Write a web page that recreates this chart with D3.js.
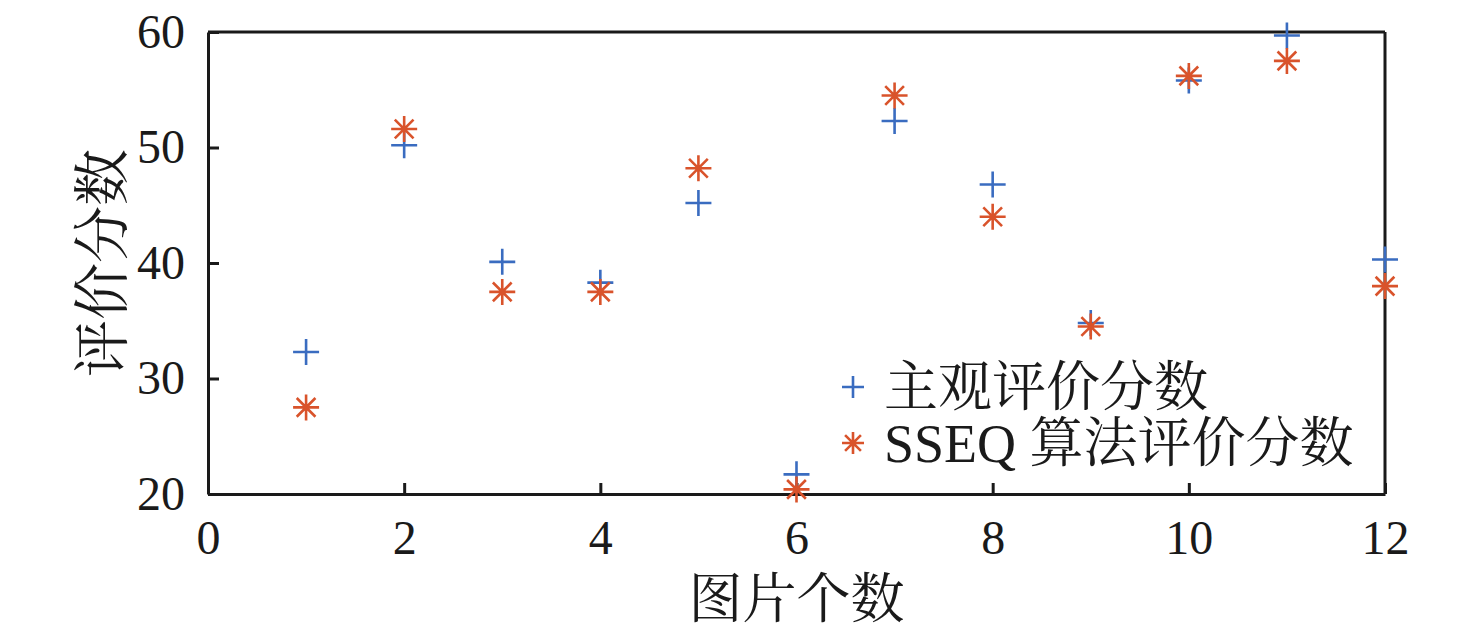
<!DOCTYPE html>
<html>
<head>
<meta charset="utf-8">
<script src="https://cdn.jsdelivr.net/npm/d3@7"></script>
<style>
  body { margin: 0; background: #fff; }
  text { font-family: "Liberation Serif", "Times New Roman", "Noto Serif CJK SC", "Noto Sans CJK SC", serif; fill: #1a1a1a; }
</style>
</head>
<body>
<div id="chart"></div>
<script>
// DATA
var imageIndex = [1, 2, 3, 4, 5, 6, 7, 8, 9, 10, 11, 12];
var subjectiveScores = [32.3, 50.2, 40.1, 38.3, 45.2, 21.7, 52.3, 46.8, 34.8, 55.8, 59.7, 40.3];
var sseqScores = [27.5, 51.6, 37.5, 37.5, 48.2, 20.4, 54.5, 44.0, 34.5, 56.2, 57.5, 38.0];
var xTicks = [0, 2, 4, 6, 8, 10, 12];
var yTicks = [20, 30, 40, 50, 60];
var seriesNames = ["主观评价分数", "SSEQ 算法评价分数"];

var svgWidth = 1476, svgHeight = 638;
var margins = { top: 32, bottom: 144, left: 208, right: 91 };
var width = svgWidth - margins.left - margins.right;
var height = svgHeight - margins.top - margins.bottom;

var blue = "#3a6cc0", red = "#d9532b";

var svg = d3.select("#chart")
    .append("svg")
    .attr("width", svgWidth)
    .attr("height", svgHeight)
    .append("g")
    .attr("transform", "translate(" + margins.left + "," + margins.top + ")");

var x = d3.scaleLinear().domain([0, 12]).range([0, width]);
var y = d3.scaleLinear().domain([20, 60]).range([height, 0]);

// Axes (ticks pointing inward, like MATLAB)
var xAxis = svg.append("g")
    .attr("transform", "translate(0," + height + ")")
    .call(d3.axisBottom(x).tickValues(xTicks).tickSizeInner(-11).tickSizeOuter(0).tickPadding(26));
var yAxis = svg.append("g")
    .call(d3.axisLeft(y).tickValues(yTicks).tickSizeInner(-11).tickSizeOuter(0).tickPadding(23));

[xAxis, yAxis].forEach(function(a) {
    a.select(".domain").attr("stroke", "#1a1a1a").attr("stroke-width", 3);
    a.selectAll(".tick line").attr("stroke", "#1a1a1a").attr("stroke-width", 3);
    a.selectAll(".tick text")
        .style("font-family", "'Liberation Serif', 'Times New Roman', serif")
        .attr("font-size", 48)
        .attr("fill", "#1a1a1a");
});
xAxis.selectAll(".tick text").attr("dy", "0.7em");

// Box top and right
svg.append("line").attr("x1", 0).attr("x2", width).attr("y1", 0).attr("y2", 0)
    .attr("stroke", "#1a1a1a").attr("stroke-width", 3);
svg.append("line").attr("x1", width).attr("x2", width).attr("y1", 0).attr("y2", height)
    .attr("stroke", "#1a1a1a").attr("stroke-width", 3);

// Markers
function plusPath(cx, cy, r) {
    return "M" + (cx - r) + "," + cy + "H" + (cx + r) + "M" + cx + "," + (cy - r) + "V" + (cy + r);
}
function starPath(cx, cy, r) {
    var d = r * 0.72;
    return plusPath(cx, cy, r) +
        "M" + (cx - d) + "," + (cy - d) + "L" + (cx + d) + "," + (cy + d) +
        "M" + (cx - d) + "," + (cy + d) + "L" + (cx + d) + "," + (cy - d);
}

svg.append("g").selectAll("path")
    .data(imageIndex)
    .enter().append("path")
    .attr("d", function(d, i) { return plusPath(x(d), y(subjectiveScores[i]), 13); })
    .attr("stroke", blue).attr("stroke-width", 2.6).attr("fill", "none");

svg.append("g").selectAll("path")
    .data(imageIndex)
    .enter().append("path")
    .attr("d", function(d, i) { return starPath(x(d), y(sseqScores[i]), 13); })
    .attr("stroke", red).attr("stroke-width", 2.6).attr("fill", "none");

// Axis titles
svg.append("text")
    .attr("x", x(6)).attr("y", height + 124)
    .attr("text-anchor", "middle")
    .attr("font-size", 54)
    .text("图片个数");
svg.append("text")
    .attr("transform", "translate(-86," + (height / 2) + ") rotate(-90)")
    .attr("text-anchor", "middle")
    .attr("font-size", 57)
    .text("评价分数");

// Legend
var legend = svg.append("g").attr("transform", "translate(" + (853 - margins.left) + "," + (387 - margins.top) + ")");
legend.append("path").attr("d", plusPath(0, 0, 11)).attr("stroke", blue).attr("stroke-width", 2.6).attr("fill", "none");
legend.append("path").attr("d", starPath(0, 56, 11)).attr("stroke", red).attr("stroke-width", 2.6).attr("fill", "none");
legend.selectAll("text.lab")
    .data(seriesNames)
    .enter().append("text")
    .attr("class", "lab")
    .attr("x", 31)
    .attr("y", function(d, i) { return i * 56; })
    .attr("dy", "0.36em")
    .attr("font-size", 54)
    .text(function(d) { return d; });
</script>
</body>
</html>
